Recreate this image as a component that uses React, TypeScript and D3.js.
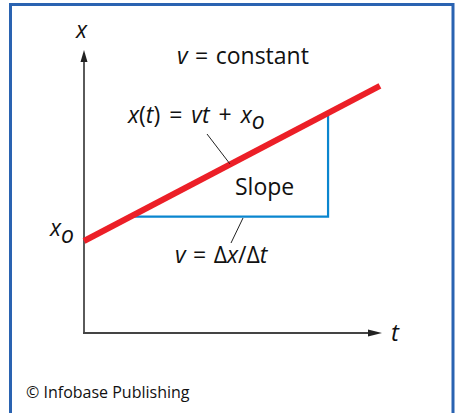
import React from "react";
import * as d3 from "d3";

// Axis domain (arbitrary units)
const tDomain = [0, 10];
const xDomain = [0, 10];

// The position-time line x(t) = v t + x0
const lineT = [0, 9.93];
const lineX = [3.25, 8.73];

// Slope triangle corners (t values along the line)
const triT = [1.56, 8.19];

const W = 457;
const H = 413;
const FONT = "'Open Sans', 'Noto Sans', sans-serif";

export default function App() {
  const tScale = d3.scaleLinear().domain(tDomain).range([84, 382]);
  const xScale = d3.scaleLinear().domain(xDomain).range([333, 50]);

  const slope = (lineX[1] - lineX[0]) / (lineT[1] - lineT[0]);
  const f = (t: number) => lineX[0] + slope * t;

  const line = d3
    .line<[number, number]>()
    .x((d) => tScale(d[0]))
    .y((d) => xScale(d[1]));

  const redPts: [number, number][] = lineT.map((t, i) => [t, lineX[i]]);
  const triPts: [number, number][] = [
    [triT[0], f(triT[0])],
    [triT[1], f(triT[0])],
    [triT[1], f(triT[1])],
  ];

  const ox = tScale(0);
  const oy = xScale(0);
  const tEnd = tScale(tDomain[1]);
  const xEnd = xScale(xDomain[1]);

  return (
    <svg
      width={W}
      height={H}
      style={{ position: "absolute", left: 0, top: 0 }}
      fontFamily={FONT}
    >
      <rect x={0} y={0} width={W} height={H} fill="#fff" />
      {/* frame */}
      <path
        d={`M10.5,${H + 5} V4.5 H453 V${H + 5}`}
        fill="none"
        stroke="#2a63b1"
        strokeWidth={3}
      />
      {/* axes */}
      <line x1={ox} y1={oy} x2={ox} y2={xEnd + 10} stroke="#5a5a5a" strokeWidth={2} />
      <line x1={ox - 1} y1={oy} x2={tEnd - 12} y2={oy} stroke="#444" strokeWidth={2} />
      <path
        d={`M${ox},${xEnd} L${ox - 3.5},${xEnd + 12} L${ox + 3.5},${xEnd + 12} Z`}
        fill="#222"
      />
      <path
        d={`M${tEnd},${oy} L${tEnd - 14},${oy - 3.5} L${tEnd - 14},${oy + 3.5} Z`}
        fill="#222"
      />
      {/* slope triangle */}
      <path d={line(triPts) || ""} fill="none" stroke="#0a86cf" strokeWidth={2.2} />
      {/* red line */}
      <path d={line(redPts) || ""} fill="none" stroke="#ec1f27" strokeWidth={6} />
      {/* leader lines */}
      <line x1={207} y1={134} x2={230} y2={164} stroke="#222" strokeWidth={1} />
      <line x1={243} y1={218} x2={231} y2={243} stroke="#222" strokeWidth={1} />

      {/* labels */}
      <text x={76} y={38} fontSize={23} fill="#111" fontStyle="italic">x</text>
      <text x={391} y={341} fontSize={24} fill="#111" fontStyle="italic">t</text>

      <text x={177} y={64} fontSize={23} fill="#111" wordSpacing={1.5}>
        <tspan fontStyle="italic">v</tspan> = constant
      </text>

      <text x={128} y={123} fontSize={23} fill="#111" wordSpacing={3}>
        <tspan fontStyle="italic">x</tspan>(<tspan fontStyle="italic">t</tspan>) ={" "}
        <tspan fontStyle="italic">vt</tspan> + <tspan fontStyle="italic">x</tspan>
        <tspan fontStyle="italic" dy={6}>o</tspan>
      </text>

      <text x={235} y={195} fontSize={23} fill="#111">Slope</text>

      <text x={50} y={236} fontSize={23} fill="#111" fontStyle="italic">
        x<tspan dy={7}>o</tspan>
      </text>

      <text x={175} y={263} fontSize={23} fill="#111" wordSpacing={1.5}>
        <tspan fontStyle="italic">v</tspan> = Δ<tspan fontStyle="italic">x</tspan>/Δ
        <tspan fontStyle="italic">t</tspan>
      </text>

      <text x={26} y={398} fontSize={16} fill="#111">© Infobase Publishing</text>
    </svg>
  );
}
